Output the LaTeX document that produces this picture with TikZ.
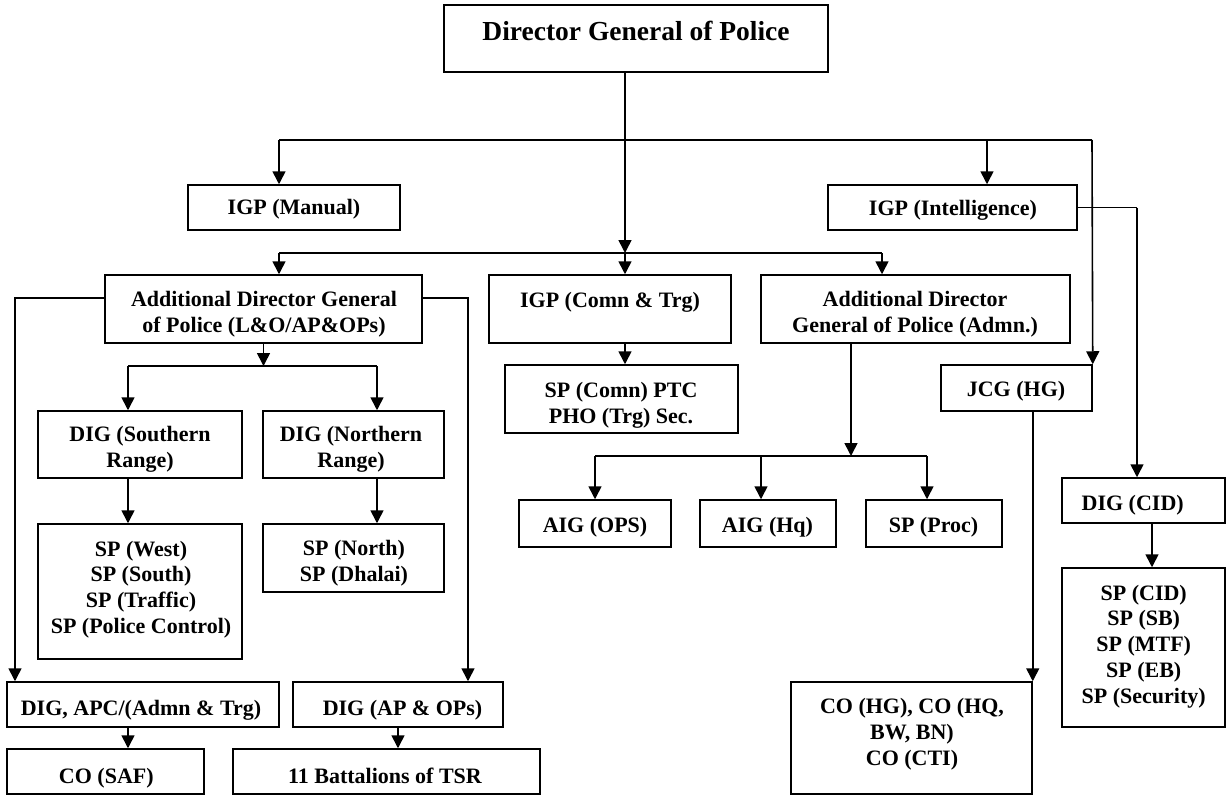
\documentclass[tikz,border=0pt]{standalone}
\usepackage{fontspec}
\setmainfont{Liberation Serif}
\usetikzlibrary{arrows.meta,calc}
\begin{document}
\begin{tikzpicture}[x=1pt,y=-1pt,
  box/.style 2 args={draw,line width=1.5pt,inner sep=0pt,minimum width=#1pt,minimum height=#2pt},
  txt/.style={font=\fontsize{22}{25.8}\selectfont\bfseries,anchor=base,align=center,inner sep=0pt},
  ln/.style={line width=1.6pt},
  arr/.style={line width=1.6pt,-{Triangle[width=13pt,length=13pt]}}]
\useasboundingbox (0,0) rectangle (1227,795);
% boxes
\node[box={384}{67}]  (dgp)   at (636,38.5) {};
\node[box={212}{45}]  (igpm)  at (294,207.5) {};
\node[box={249}{45}]  (igpi)  at (952.5,207.5) {};
\node[box={317}{68}]  (adgpl) at (263.5,309) {};
\node[box={242}{68}]  (igpc)  at (610,309) {};
\node[box={309}{68}]  (adgpa) at (915.5,309) {};
\node[box={233}{68}]  (spc)   at (621.5,399) {};
\node[box={151}{46}]  (jcg)   at (1016.5,388) {};
\node[box={204}{67}]  (digs)  at (140,444.5) {};
\node[box={181}{67}]  (dign)  at (353.5,444.5) {};
\node[box={152}{47}]  (aigo)  at (595,523.5) {};
\node[box={136}{47}]  (aigh)  at (768,523.5) {};
\node[box={136}{47}]  (spp)   at (934,523.5) {};
\node[box={163}{45}]  (digc)  at (1143.5,500.5) {};
\node[box={204}{135}] (sps)   at (140,591.5) {};
\node[box={181}{68}]  (spn)   at (353.5,558) {};
\node[box={163}{159}] (spcid) at (1143.5,647.5) {};
\node[box={272}{45}]  (diga)  at (143,704.5) {};
\node[box={210}{45}]  (digap) at (398,704.5) {};
\node[box={241}{112}] (cohg)  at (911.5,738) {};
\node[box={197}{45}]  (cosaf) at (105.5,771.5) {};
\node[box={307}{45}]  (bat)   at (386.5,771.5) {};
% texts (anchor base = baseline of the last line)
\node[txt,font=\fontsize{27.5}{30}\selectfont\bfseries] (tdgp) at (636,40) {Director General of Police};
\node[txt] (tigpm) at (294,214) {IGP (Manual)};
\node[txt] (tigpi) at (953,215) {IGP (Intelligence)};
\node[txt] (tadgpl) at (264,332.5) {Additional Director General\\of Police (L\&O/AP\&OPs)};
\node[txt] (tigpc) at (610,307) {IGP (Comn \& Trg)};
\node[txt] (tadgpa) at (915,332.5) {Additional Director\\General of Police (Admn.)};
\begin{scope}
  \clip (spc.north west) rectangle (spc.south east);
  \node[txt] (tspc) at (621,423) {SP (Comn) PTC\\PHO (Trg) Sec.};
\end{scope}
\node[txt] (tjcg) at (1016,396.7) {JCG (HG)};
\begin{scope}
  \clip (digs.north west) rectangle (digs.south east);
  \node[txt] (tdigs) at (140,467.5) {DIG (Southern\\Range)};
\end{scope}
\begin{scope}
  \clip (dign.north west) rectangle (dign.south east);
  \node[txt] (tdign) at (351,467.5) {DIG (Northern\\Range)};
\end{scope}
\node[txt] (tsps) at (141,633.5) {SP (West)\\SP (South)\\SP (Traffic)\\SP (Police Control)};
\begin{scope}
  \clip (spn.north west) rectangle (spn.south east);
  \node[txt] (tspn) at (354,581.5) {SP (North)\\SP (Dhalai)};
\end{scope}
\node[txt] (taigo) at (595,532.7) {AIG (OPS)};
\node[txt] (taigh) at (767.5,532.7) {AIG (Hq)};
\node[txt] (tspp) at (933.5,532.7) {SP (Proc)};
\node[txt] (tdigc) at (1132.7,510) {DIG (CID)};
\node[txt] (tspcid) at (1143.7,703.3) {SP (CID)\\SP (SB)\\SP (MTF)\\SP (EB)\\SP (Security)};
\node[txt] (tdiga) at (141,715) {DIG, APC/(Admn \& Trg)};
\node[txt] (tdigap) at (402.5,715) {DIG (AP \& OPs)};
\node[txt] (tcohg) at (912,765) {CO (HG), CO (HQ,\\BW, BN)\\CO (CTI)};
\node[txt] (tcosaf) at (106.3,783) {CO (SAF)};
\node[txt] (tbat) at (385,783) {11 Battalions of TSR};
% junction coordinates
\coordinate (t1) at (279,140);
\coordinate (t2) at (987,140);
\coordinate (t3) at (1092,140);
\coordinate (m1) at (279,253);
\coordinate (m2) at (625,253);
\coordinate (m3) at (882,253);
\coordinate (l1) at (15,298);
\coordinate (r1) at (468,298);
\coordinate (d1) at (128,366);
\coordinate (d2) at (377,366);
\coordinate (a0) at (851,456);
\coordinate (a1) at (595,456);
\coordinate (a2) at (761,456);
\coordinate (a3) at (927,456);
\coordinate (i1) at (1137,207.5);
\coordinate (c1) at (1152,523);
% connectors
\draw[ln] (t1) -- (t3);
\draw[arr] (t1) -- (t1 |- igpm.north);
\draw[arr] (t2) -- (t2 |- igpi.north);
\draw[arr] (t3) -- (jcg.north east);
\draw[arr] (dgp.south -| m2) -- (m2);
\draw[ln] (m1) -- (m3);
\draw[arr] (m1) -- (m1 |- adgpl.north);
\draw[arr] (m2) -- (m2 |- igpc.north);
\draw[arr] (m3) -- (m3 |- adgpa.north);
\draw[arr] (l1 -| adgpl.west) -- (l1) -- (l1 |- diga.north);
\draw[arr] (r1 -| adgpl.east) -- (r1) -- (r1 |- digap.north);
\draw[arr] (adgpl.south) -- (adgpl.south |- d1);
\draw[ln] (d1) -- (d2);
\draw[arr] (d1) -- (d1 |- digs.north);
\draw[arr] (d2) -- (d2 |- dign.north);
\draw[arr] (digs.south -| d1) -- (sps.north -| d1);
\draw[arr] (dign.south -| d2) -- (spn.north -| d2);
\draw[arr] (diga.south -| d1) -- (cosaf.north -| d1);
\draw[arr] (digap.south) -- (digap.south |- bat.north);
\draw[arr] (igpc.south -| m2) -- (spc.north -| m2);
\draw[arr] (adgpa.south -| a0) -- (a0);
\draw[ln] (a1) -- (a3);
\draw[arr] (a1) -- (a1 |- aigo.north);
\draw[arr] (a2) -- (a2 |- aigh.north);
\draw[arr] (a3) -- (a3 |- spp.north);
\draw[ln] (igpi.east) -- (i1);
\draw[arr] (i1) -- (i1 |- digc.north);
\draw[arr] (c1) -- (c1 |- spcid.north);
\draw[arr] (cohg.north east |- jcg.south) -- (cohg.north east);
\end{tikzpicture}
\end{document}
